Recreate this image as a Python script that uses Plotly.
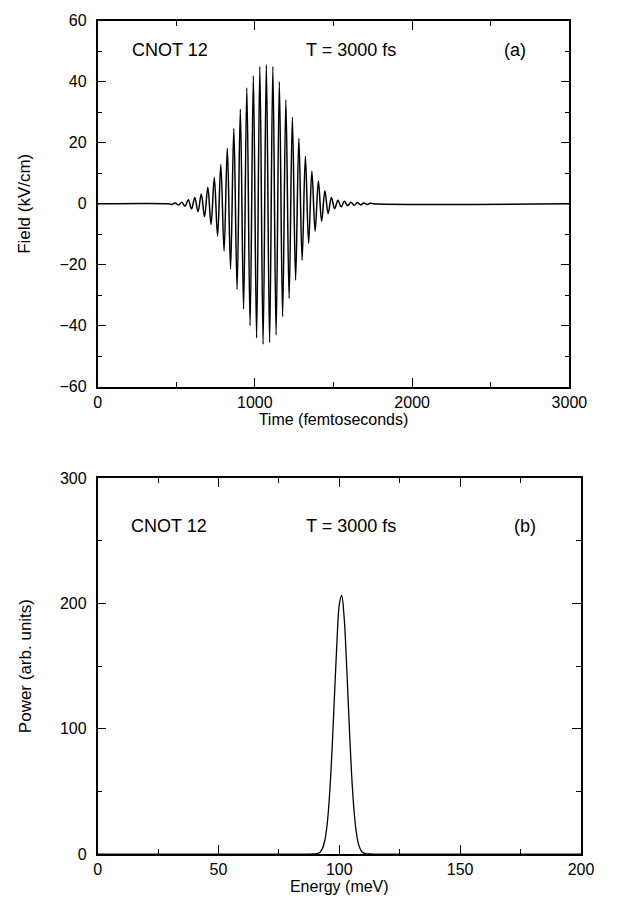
import plotly.graph_objects as go

# ---------------- Data ----------------
# Panel (a): field extrema (time in fs, field in kV/cm)
time_fs = [0, 452,
           473.3, 494.0, 514.6, 535.3, 556.0, 576.7, 597.4, 618.0, 638.7, 659.4,
           680.1, 700.8, 721.4, 742.1, 762.8, 783.5, 804.2, 824.8, 845.5, 866.2,
           886.9, 907.6, 928.2, 948.9, 969.6, 990.3, 1011.0, 1031.6, 1052.3, 1073.0,
           1093.7, 1114.4, 1135.0, 1155.7, 1176.4, 1197.1, 1217.8, 1238.4, 1259.1, 1279.8,
           1300.5, 1321.2, 1341.8, 1362.5, 1383.2, 1403.9, 1424.6, 1445.2, 1465.9, 1486.6,
           1507.3, 1528.0, 1548.6, 1569.3, 1590.0, 1610.7, 1631.4, 1652.0, 1672.7, 1693.4,
           1714.1, 1734.8,
           1756, 3000]
field_kvcm = [0, 0,
              -0.2, 0.3, -0.4, 0.5, -0.8, 1.3, -1.7, 2.1, -2.6, 3.2,
              -4.2, 5.4, -6.8, 8.6, -10.6, 12.9, -15.5, 18.2, -21.4, 24.7,
              -28.0, 31.0, -34.5, 38.0, -40.0, 42.0, -44.0, 45.0, -46.0, 45.6,
              -45.5, 45.0, -43.0, 40.0, -37.0, 34.0, -31.0, 28.4, -25.0, 21.4,
              -18.5, 15.6, -13.0, 10.7, -9.0, 7.5, -5.8, 4.3, -3.2, 2.1,
              -1.6, 1.2, -1.0, 0.8, -0.6, 0.5, -0.45, 0.4, -0.35, 0.3,
              -0.25, 0.2,
              0, 0]

# Panel (b): power spectrum (energy in meV, power in arb. units)
energy_mev = [0, 88, 90, 91, 92, 93, 94, 95, 96, 97, 98, 99, 100, 101, 102, 103,
              104, 105, 106, 107, 108, 109, 110, 111, 112, 114, 200]
power_arb = [0, 0, 0.1, 0.45, 1.5, 4.3, 10.8, 24, 48, 83, 126, 168, 199, 206.5, 189, 152,
             108, 67, 37, 18, 7.5, 2.8, 0.9, 0.3, 0.07, 0, 0]

label_gate = "CNOT 12"
label_T = "T = 3000 fs"

# ---------------- Figure ----------------
W, H = 626, 918
FAMILY = "Liberation Sans, Arial, Helvetica, sans-serif"
FONT = dict(family=FAMILY, size=16, color="black")
FONT_YTITLE = dict(family=FAMILY, size=17, color="black")
FONT_NOTE = dict(family=FAMILY, size=18, color="black")

fig = go.Figure()
fig.add_trace(go.Scatter(x=time_fs, y=field_kvcm, mode="lines",
                         line=dict(color="black", width=1.5, shape="spline"),
                         xaxis="x", yaxis="y", showlegend=False))
fig.add_trace(go.Scatter(x=energy_mev, y=power_arb, mode="lines",
                         line=dict(color="black", width=1.3, shape="spline"),
                         xaxis="x2", yaxis="y2", showlegend=False))

def px_x(p):
    return p / W

def px_y(p):
    return 1 - p / H

axis_common = dict(showline=True, linecolor="black", linewidth=1.5, mirror="allticks",
                   ticks="inside", ticklen=9, tickwidth=1.2, tickcolor="black",
                   showgrid=False, zeroline=False, tickfont=FONT)
minor_common = dict(ticks="inside", ticklen=5, tickwidth=1.2, tickcolor="black", showgrid=False)

fig.update_layout(
    width=W, height=H,
    margin=dict(l=0, r=0, t=0, b=0),
    paper_bgcolor="white", plot_bgcolor="white",
    font=FONT,
    xaxis=dict(domain=[px_x(97), px_x(586)], range=[0, 3000], anchor="y",
               tickvals=[0, 1000, 2000, 3000],
               minor=dict(tickvals=[500, 1500, 2500], **minor_common),
               title=dict(text="Time (femtoseconds)", standoff=4, font=FONT),
               ticklabelstandoff=0,
               **axis_common),
    yaxis=dict(domain=[px_y(386), px_y(13)], range=[-60, 60], anchor="x",
               tickvals=[-60, -40, -20, 0, 20, 40, 60],
               ticktext=["\u221260", "\u221240", "\u221220", "0", "20", "40", "60"],
               minor=dict(tickvals=[-50, -30, -10, 10, 30, 50], **minor_common),
               title=dict(text="Field (kV/cm)", standoff=25, font=FONT_YTITLE),
               ticklabelstandoff=6,
               **axis_common),
    xaxis2=dict(domain=[px_x(97), px_x(598)], range=[0, 200], anchor="y2",
                tickvals=[0, 50, 100, 150, 200],
                minor=dict(tickvals=[25, 75, 125, 175], **minor_common),
                title=dict(text="Energy (meV)", standoff=4, font=FONT),
                ticklabelstandoff=0,
                **axis_common),
    yaxis2=dict(domain=[px_y(862), px_y(479)], range=[0, 300], anchor="x2",
                tickvals=[0, 100, 200, 300],
                minor=dict(tickvals=[50, 150, 250], **minor_common),
                title=dict(text="Power (arb. units)", standoff=24, font=FONT_YTITLE),
                ticklabelstandoff=6,
                **axis_common),
)

# In-panel labels
for xa, ya, xs, yv, tag in [("x", "y", (460, 1613, 2656), 50.3, "(a)"),
                            ("x2", "y2", (29.5, 105, 176.8), 261.6, "(b)")]:
    for xv, txt in zip(xs, (label_gate, label_T, tag)):
        fig.add_annotation(x=xv, y=yv, xref=xa, yref=ya, text=txt,
                           showarrow=False, font=FONT_NOTE, xanchor="center", yanchor="middle")

fig.write_html("out.html", config={"displayModeBar": False},
               post_script="document.body.style.margin='0px';document.body.style.overflow='hidden';")
